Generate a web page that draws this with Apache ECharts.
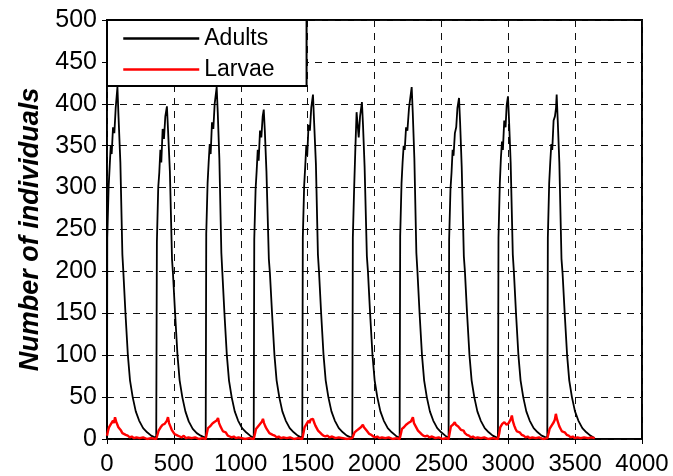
<!DOCTYPE html>
<html lang="en">
  <head>
    <meta charset="UTF-8" />
    <title>Adults and larvae</title>
    <script src="https://cdn.jsdelivr.net/npm/echarts@6.0.0/dist/echarts.min.js"></script>
    <style>
      html, body { margin: 0; padding: 0; background: #fff; }
      #chart { width: 673px; height: 476px; }
    </style>
  </head>
  <body>
    <div id="chart"></div>
    <script>
      // ticks
      var xTicks = [0, 500, 1000, 1500, 2000, 2500, 3000, 3500, 4000];
      var yTicks = [0, 50, 100, 150, 200, 250, 300, 350, 400, 450, 500];
      var seriesNames = ['Adults', 'Larvae'];

      // adults, [time, count]
      var adults = [
        [0,0],[2,240],[12,300],[20,325],[28,350],[35,340],[45,372],[55,365],[65,395],[78,420],[86,385],[100,330],[115,220],[122,200],[138,150],[156,100],[172,70],[192,50],[215,33],[240,22],[270,13],[300,8],[330,4],[368,1],
        [371,1],[373,235],[383,300],[391,318],[399,345],[406,330],[416,370],[426,358],[436,385],[448,397],[456,370],[470,320],[486,215],[493,198],[509,150],[527,100],[543,70],[563,50],[586,33],[611,21],[641,12],[671,7],[701,4],[738,1],
        [740,1],[742,245],[752,305],[760,330],[768,352],[775,340],[785,378],[795,370],[805,400],[820,420],[828,390],[840,335],[855,222],[862,200],[878,150],[896,100],[912,70],[932,50],[955,33],[980,22],[1010,13],[1040,8],[1070,4],[1097,1],
        [1099,1],[1101,238],[1111,298],[1119,320],[1127,345],[1134,332],[1144,368],[1154,360],[1164,385],[1172,393],[1180,368],[1192,320],[1210,215],[1218,198],[1234,150],[1252,100],[1268,70],[1288,50],[1311,33],[1336,22],[1366,13],[1396,8],[1426,4],[1460,1],
        [1462,1],[1464,240],[1474,302],[1482,325],[1490,350],[1497,338],[1507,375],[1517,368],[1527,395],[1540,411],[1548,380],[1562,328],[1577,220],[1585,200],[1601,150],[1619,100],[1635,70],[1655,50],[1678,33],[1703,22],[1733,13],[1763,8],[1793,4],[1834,1],
        [1836,1],[1838,240],[1848,300],[1856,342],[1866,390],[1874,375],[1882,360],[1892,385],[1906,402],[1914,375],[1926,325],[1943,218],[1951,200],[1967,150],[1985,100],[2001,70],[2021,50],[2044,33],[2069,22],[2099,13],[2129,8],[2159,4],[2188,1],
        [2190,1],[2192,242],[2202,305],[2210,330],[2218,350],[2226,345],[2236,372],[2246,368],[2258,395],[2278,420],[2286,390],[2298,335],[2313,222],[2321,200],[2337,150],[2355,100],[2371,70],[2391,50],[2414,33],[2439,22],[2469,13],[2499,8],[2529,4],[2554,1],
        [2556,1],[2558,238],[2568,298],[2576,318],[2584,345],[2591,338],[2601,365],[2611,372],[2620,395],[2632,407],[2640,378],[2652,325],[2668,218],[2676,200],[2692,150],[2710,100],[2726,70],[2746,50],[2769,33],[2794,22],[2824,13],[2854,8],[2884,4],[2923,1],
        [2925,1],[2927,240],[2937,305],[2945,335],[2953,355],[2960,345],[2970,380],[2980,372],[2988,398],[2998,409],[3006,380],[3018,330],[3034,220],[3042,200],[3058,150],[3076,100],[3092,70],[3112,50],[3135,33],[3160,22],[3190,13],[3220,8],[3250,4],[3292,1],
        [3294,1],[3296,240],[3306,305],[3314,330],[3322,352],[3329,345],[3339,380],[3349,385],[3357,395],[3362,411],[3370,380],[3382,330],[3398,215],[3406,198],[3422,150],[3440,100],[3456,70],[3476,50],[3499,33],[3524,22],[3554,13],[3584,8],[3614,4],[3647,1]
      ];

      // larvae, [time, count]
      var larvae = [
        [0,4],[8,10],[15,14],[22,12],[30,18],[38,16],[45,22],[52,19],[60,26],[68,21],[75,20],[85,14],[95,12],[105,10],[115,7],[125,8],[140,5],[155,4],[170,2],[185,3],[200,1],[220,2],[245,1],[270,2],[300,0],[330,1],[368,0],
        [371,1],[379,6],[386,10],[393,9],[401,14],[409,12],[416,17],[423,15],[431,18],[440,16],[448,22],[456,26],[464,19],[474,15],[484,11],[494,9],[504,6],[514,8],[529,4],[544,3],[559,2],[574,4],[589,1],[609,2],[634,1],[659,2],[689,0],[714,1],[738,0],
        [740,1],[748,8],[755,13],[762,11],[770,15],[778,14],[785,18],[792,16],[800,20],[810,18],[820,22],[830,25],[838,19],[848,15],[858,12],[868,9],[878,7],[888,8],[903,4],[918,3],[933,2],[948,3],[963,1],[983,2],[1008,1],[1033,0],[1063,1],[1097,0],
        [1099,1],[1107,7],[1114,12],[1121,10],[1129,15],[1137,13],[1144,18],[1151,16],[1159,21],[1166,24],[1174,19],[1184,15],[1194,12],[1204,10],[1214,7],[1224,8],[1239,5],[1254,4],[1269,2],[1284,3],[1299,1],[1319,2],[1344,1],[1369,2],[1399,0],[1429,1],[1460,0],
        [1462,1],[1470,8],[1477,14],[1484,12],[1492,18],[1500,16],[1507,22],[1514,19],[1522,23],[1530,21],[1540,24],[1548,20],[1558,16],[1568,13],[1578,10],[1588,8],[1603,6],[1618,4],[1633,3],[1648,4],[1663,2],[1683,3],[1708,1],[1733,2],[1763,1],[1793,0],[1834,1],
        [1836,1],[1844,5],[1851,8],[1858,7],[1866,10],[1874,9],[1882,12],[1890,11],[1898,14],[1906,13],[1913,17],[1921,14],[1931,12],[1941,10],[1951,8],[1961,6],[1976,5],[1991,3],[2006,2],[2021,3],[2036,1],[2056,2],[2081,1],[2106,2],[2136,0],[2166,1],[2188,0],
        [2190,1],[2198,7],[2205,12],[2212,10],[2220,14],[2228,13],[2236,17],[2244,15],[2252,19],[2262,17],[2272,21],[2280,20],[2287,26],[2295,19],[2305,16],[2315,13],[2325,10],[2335,8],[2350,6],[2365,4],[2380,3],[2395,4],[2410,2],[2430,3],[2455,1],[2480,2],[2510,0],[2535,1],[2554,0],
        [2556,1],[2564,9],[2571,15],[2578,13],[2586,17],[2593,16],[2600,20],[2608,17],[2616,18],[2626,15],[2636,13],[2646,11],[2656,9],[2666,10],[2676,7],[2691,5],[2706,4],[2721,2],[2736,3],[2751,1],[2771,2],[2796,1],[2821,2],[2851,0],[2881,1],[2923,0],
        [2925,1],[2933,7],[2940,14],[2947,12],[2955,18],[2963,16],[2971,20],[2979,18],[2987,17],[2995,15],[3003,19],[3012,18],[3020,24],[3027,28],[3035,21],[3045,16],[3055,12],[3065,9],[3075,7],[3085,8],[3100,5],[3115,4],[3130,2],[3145,3],[3160,1],[3180,2],[3205,1],[3230,2],[3260,0],[3292,1],
        [3294,1],[3302,7],[3309,12],[3316,11],[3324,16],[3332,15],[3340,20],[3348,23],[3356,30],[3364,24],[3372,20],[3382,15],[3392,12],[3402,9],[3412,7],[3422,8],[3437,5],[3452,4],[3467,2],[3482,3],[3497,1],[3517,2],[3542,1],[3567,2],[3597,1],[3622,2],[3647,1]
      ];

      var font = 'Liberation Sans, Arial, sans-serif';
      var dashed = { show: true, lineStyle: { color: '#111', width: 1, type: [7, 6] } };

      function xAxisOpt(pos, labels) {
        return {
          type: 'value', position: pos,
          min: xTicks[0], max: xTicks[xTicks.length - 1], interval: xTicks[1] - xTicks[0],
          axisLine: { show: false },
          axisTick: { show: true, inside: true, length: 5, lineStyle: { color: '#000', width: 1 } },
          axisLabel: { show: labels, color: '#000', fontSize: 24, fontFamily: font, margin: 13,
            formatter: function (v) { return String(v); } },
          splitLine: labels ? dashed : { show: false }
        };
      }
      function yAxisOpt(pos, labels) {
        return {
          type: 'value', position: pos,
          min: yTicks[0], max: yTicks[yTicks.length - 1], interval: yTicks[1] - yTicks[0],
          name: labels ? 'Number of individuals' : '',
          nameLocation: 'middle', nameGap: 63,
          nameTextStyle: { fontSize: 27, fontWeight: 'bold', fontStyle: 'italic', fontFamily: font, color: '#000' },
          axisLine: { show: false },
          axisTick: { show: true, inside: true, length: 5, lineStyle: { color: '#000', width: 1 } },
          axisLabel: { show: labels, color: '#000', fontSize: 25, fontFamily: font, margin: 10 },
          splitLine: labels ? dashed : { show: false }
        };
      }

      var chart = echarts.init(document.getElementById('chart'));
      chart.setOption({
        animation: false,
        backgroundColor: '#fff',
        grid: { left: 107, right: 31, top: 20, bottom: 34, show: true, borderColor: '#000', borderWidth: 2, backgroundColor: 'transparent' },
        legend: {
          orient: 'vertical', left: 107, top: 20,
          data: seriesNames,
          backgroundColor: '#fff', borderColor: '#000', borderWidth: 2,
          padding: [7, 32, 5, 15],
          itemWidth: 76, itemHeight: 20, itemGap: 8, itemTextGap: 12,
          itemStyle: { opacity: 0 },
          lineStyle: { width: 2.5 },
          textStyle: { fontSize: 23, fontFamily: font, color: '#000' }
        },
        xAxis: [xAxisOpt('bottom', true), xAxisOpt('top', false)],
        yAxis: [yAxisOpt('left', true), yAxisOpt('right', false)],
        series: [
          {
            name: seriesNames[0], type: 'line', data: adults,
            showSymbol: false, symbol: 'none',
            lineStyle: { color: '#000', width: 1.8 }, itemStyle: { color: '#000' }, z: 3
          },
          {
            name: seriesNames[1], type: 'line', data: larvae,
            showSymbol: false, symbol: 'none',
            lineStyle: { color: '#ff0000', width: 2.4 }, itemStyle: { color: '#ff0000' }, z: 4
          }
        ]
      });
    </script>
  </body>
</html>
